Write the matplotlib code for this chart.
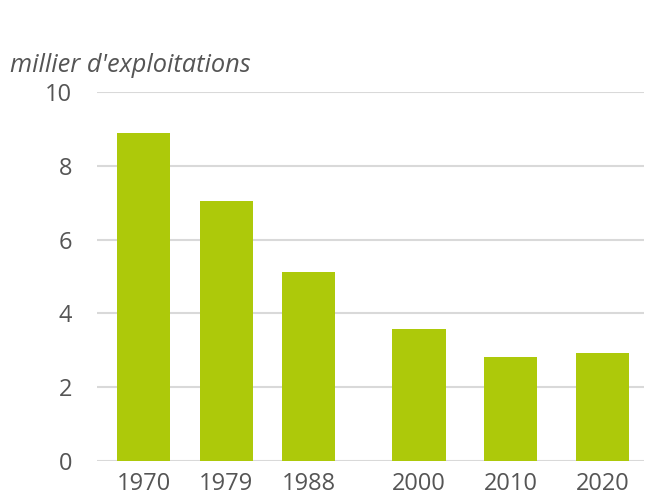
import matplotlib
matplotlib.use("Agg")
from matplotlib import pyplot as plt

years = [1970, 1979, 1988, 2000, 2010, 2020]
exploitations = [8.87, 7.04, 5.11, 3.58, 2.81, 2.93]
ytick_values = [0, 2, 4, 6, 8, 10]

bar_green = "#adc90a"
text_grey = "#555555"
grid_grey = "#d9d9d9"

plt.rcParams["font.family"] = ["Open Sans", "DejaVu Sans"]

fig = plt.figure(figsize=(6.45, 4.96), dpi=100)
ax = fig.add_axes([0.1504, 0.07, 0.848, 0.7451])

ax.bar(years, exploitations, width=5.8, color=bar_green, zorder=3)

ax.set_xlim(1964.93, 2024.5)
ax.set_ylim(0, 10)
ax.set_xticks(years)
ax.set_xticklabels([str(y) for y in years])
ax.set_yticks(ytick_values)

ax.grid(axis="y", color=grid_grey, linewidth=1.5, zorder=0)
for s in ax.spines.values():
    s.set_visible(False)
ax.tick_params(axis="both", length=0, labelsize=17, labelcolor=text_grey)
ax.tick_params(axis="x", pad=8)
ax.tick_params(axis="y", pad=18)

fig.text(0.015, 0.867, "millier d'exploitations", fontsize=18.3, style="italic",
         color=text_grey, ha="left", va="center")

fig.savefig("out.png", dpi=100)
